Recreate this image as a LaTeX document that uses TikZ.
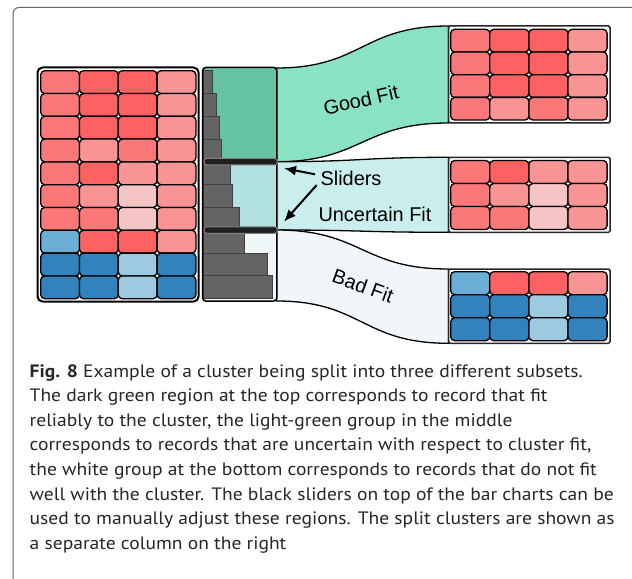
\documentclass[tikz,border=0pt]{standalone}
\usepackage{fontspec}
\setmainfont{Liberation Sans}
\newfontfamily\capfont[FakeStretch=1.09]{PT Sans}
\usetikzlibrary{arrows.meta}
\definecolor{cA}{HTML}{FB7878}
\definecolor{cB}{HTML}{FD6262}
\definecolor{cP}{HTML}{F89494}
\definecolor{cL}{HTML}{F5C4C4}
\definecolor{cLB}{HTML}{6BAED6}
\definecolor{cDB}{HTML}{3182BD}
\definecolor{cPB}{HTML}{9ECAE1}
\definecolor{gDark}{HTML}{66C2A5}
\definecolor{gFlow}{HTML}{88E2C3}
\definecolor{tPanel}{HTML}{B3E2E2}
\definecolor{tFlow}{HTML}{CAEEEE}
\definecolor{wPanel}{HTML}{EFF7F9}
\definecolor{wFlow}{HTML}{F0F6F9}
\definecolor{barfill}{HTML}{646464}
\definecolor{baredge}{HTML}{404040}
\definecolor{frame}{HTML}{666666}
\definecolor{captxt}{HTML}{262626}
\tikzset{
  cell/.style={draw=black, line width=1.3bp, rounded corners=4bp},
  bar/.style={fill=barfill, draw=baredge, line width=1bp},
  flow/.style={draw=black, line width=1.3bp},
  slider/.style={fill=black!88, draw=black!50, line width=1bp, rounded corners=3bp},
  label/.style={font=\fontsize{20}{24}\selectfont, inner sep=0pt},
  capline/.style={anchor=base west, inner sep=0pt, text=captxt, font=\capfont\fontsize{18}{21}\selectfont},
  pointer/.style={line width=2bp, -{Latex[length=12bp,width=10bp]}}
}
\begin{document}
\begin{tikzpicture}[x=1bp,y=-1bp]
\useasboundingbox (0,0) rectangle (632,579);
% outer frame
\draw[frame, line width=1bp, rounded corners=6bp] (13,580) -- (13,7.5) -- (633,7.5);

% flows
\draw[flow, fill=gFlow] (276.5,68) .. controls (362,68) and (362,26) .. (448.5,26)
  -- (448.5,123) .. controls (362,123) and (362,161.7) .. (276.5,161.7) -- cycle;
\draw[flow, fill=tFlow] (276.5,161.7) .. controls (362,161.7) and (362,157.3) .. (448.5,157.3)
  -- (448.5,232.3) .. controls (362,232.3) and (362,230) .. (276.5,230) -- cycle;
\draw[flow, fill=wFlow] (276.5,230) .. controls (362,230) and (362,269) .. (448.5,269)
  -- (448.5,343.3) .. controls (362,343.3) and (362,301) .. (276.5,301) -- cycle;

% left matrix
\draw[black, line width=2bp, fill=white, rounded corners=5bp] (37.5,67.5) rectangle (198.5,301.5);
\foreach \row [count=\i from 0] in {
  {cA,cB,cB,cP},{cA,cB,cB,cP},{cA,cB,cB,cP},{cA,cP,cA,cP},{cA,cB,cP,cP},
  {cA,cP,cL,cP},{cA,cA,cL,cP},{cLB,cB,cB,cP},{cDB,cDB,cPB,cDB},{cDB,cDB,cPB,cDB}} {
  \foreach \c [count=\j from 0] in \row {
    \draw[cell, fill=\c] ({40.7+\j*38.8},{70.7+\i*22.8}) rectangle ++(38.8,22.8);
  }
}

% bar panel
\fill[gDark] (203.5,68) rectangle (276,161.7);
\fill[tPanel] (203.5,161.7) rectangle (276,230);
\fill[wPanel] (203.5,230) rectangle (276,300.5);
\foreach \e [count=\i from 0] in {212.7,216,219,221,230,232.7,239.7,244.3,267.7,272.3} {
  \draw[bar] (203.5,{70.7+\i*22.8}) rectangle (\e,{70.7+(\i+1)*22.8});
}
\draw[black, line width=1.5bp, rounded corners=3bp] (202.7,67.5) rectangle (276.8,301);
\draw[slider] (204,158.5) rectangle (277.5,165);
\draw[slider] (204,226.8) rectangle (277.5,233.3);

% right matrices
\draw[draw=black!85, line width=1.5bp, fill=white, rounded corners=1.5bp] (448.5,26) rectangle (610,123);
\foreach \row [count=\i from 0] in {{cA,cB,cB,cP},{cA,cB,cB,cP},{cA,cB,cB,cP},{cA,cP,cA,cP}} {
  \foreach \c [count=\j from 0] in \row {
    \draw[cell, fill=\c] ({450.7+\j*39.1},{29.3+\i*22.7}) rectangle ++(39.1,22.7);
  }
}
\draw[draw=black!85, line width=1.5bp, fill=white, rounded corners=1.5bp] (448.5,157.3) rectangle (610,232.3);
\foreach \row [count=\i from 0] in {{cA,cB,cP,cP},{cA,cP,cL,cP},{cA,cA,cL,cP}} {
  \foreach \c [count=\j from 0] in \row {
    \draw[cell, fill=\c] ({450.7+\j*39.1},{160.5+\i*23}) rectangle ++(39.1,23);
  }
}
\draw[draw=black!85, line width=1.5bp, fill=white, rounded corners=1.5bp] (448.5,269) rectangle (610,343.3);
\foreach \row [count=\i from 0] in {{cLB,cB,cB,cP},{cDB,cDB,cPB,cDB},{cDB,cDB,cPB,cDB}} {
  \foreach \c [count=\j from 0] in \row {
    \draw[cell, fill=\c] ({450.7+\j*39.1},{271.7+\i*23}) rectangle ++(39.1,23);
  }
}

% labels
\node[label, rotate=12.6] (good) at (361,100) {Good Fit};
\node[label, rotate=-20] (bad) at (363,286) {Bad Fit};
\node[label] (sliders) at (351,178.5) {Sliders};
\node[label] (uncertain) at (375,214.5) {Uncertain Fit};
\coordinate (tip1) at (284,168.3);
\coordinate (tip2) at (284,221.7);
\draw[pointer] (315,174.3) -- (tip1);
\draw[pointer] (316.7,185) -- (tip2);

% caption
\node[capline] (c1) at (29.5,377) {\textbf{Fig. 8} Example of a cluster being split into three different subsets.};
\node[capline] (c2) at (29.5,401.6) {The dark green region at the top corresponds to record that fit};
\node[capline] (c3) at (29.5,426.2) {reliably to the cluster, the light-green group in the middle};
\node[capline] (c4) at (29.5,450.8) {corresponds to records that are uncertain with respect to cluster fit,};
\node[capline] (c5) at (29.5,475.4) {the white group at the bottom corresponds to records that do not fit};
\node[capline] (c6) at (29.5,500) {well with the cluster. The black sliders on top of the bar charts can be};
\node[capline] (c7) at (29.5,524.6) {used to manually adjust these regions. The split clusters are shown as};
\node[capline] (c8) at (29.5,549.2) {a separate column on the right};
\end{tikzpicture}
\end{document}
